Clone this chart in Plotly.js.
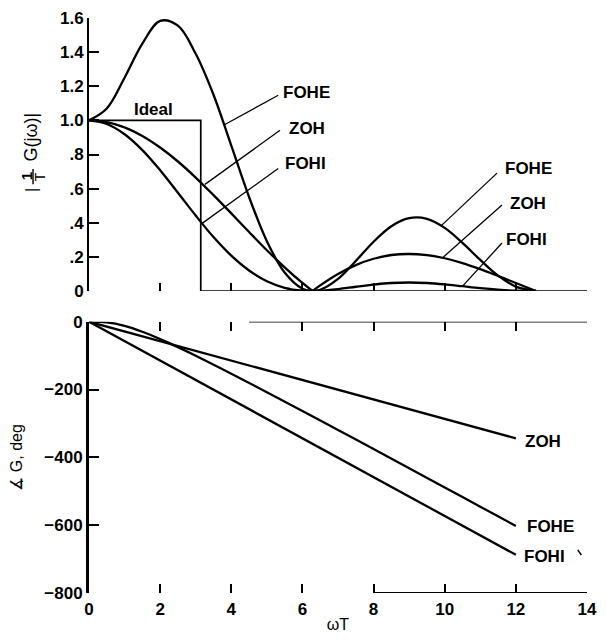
<!DOCTYPE html>
<html>
<head>
<meta charset="utf-8">
<script src="https://cdn.plot.ly/plotly-3.0.1.min.js"></script>
<style>html,body{margin:0;padding:0;background:#fff;}#chart{width:606px;height:642px;}</style>
</head>
<body>
<div id="chart"></div>
<script>
// ---- data ----
const wT = [0, 0.5, 1, 1.5, 2, 2.5, 3, 3.5, 4, 4.5, 5, 5.5, 6, 6.283, 6.5, 7, 7.5, 8, 8.5, 9, 9.5, 10, 10.5, 11, 11.5, 12, 12.566];
const magZOH  = [1, 0.990, 0.959, 0.909, 0.841, 0.759, 0.665, 0.562, 0.455, 0.346, 0.239, 0.139, 0.047, 0, 0.033, 0.100, 0.152, 0.189, 0.211, 0.217, 0.210, 0.192, 0.164, 0.128, 0.088, 0.047, 0];
const magFOHI = [1, 0.979, 0.919, 0.826, 0.708, 0.576, 0.442, 0.316, 0.207, 0.120, 0.057, 0.019, 0.002, 0, 0.001, 0.011, 0.025, 0.038, 0.047, 0.050, 0.047, 0.039, 0.028, 0.017, 0.008, 0.002, 0];
const magFOHE = [1, 1.07, 1.25, 1.45, 1.583, 1.555, 1.39, 1.15, 0.852, 0.551, 0.292, 0.108, 0.013, 0, 0.007, 0.071, 0.176, 0.289, 0.380, 0.427, 0.423, 0.370, 0.282, 0.182, 0.090, 0.026, 0];
const idealX = [0, 3.1416, 3.1416];
const idealY = [1, 1, 0];

const phX     = [0, 1, 2, 3, 4, 5, 6, 7, 8, 9, 10, 11, 12];
const phZOH   = [0, -28.6, -57.3, -85.9, -114.6, -143.2, -171.9, -200.5, -229.2, -257.8, -286.5, -315.1, -343.8];
const phFOHI  = [0, -57.3, -114.6, -171.9, -229.2, -286.5, -343.8, -401.1, -458.4, -515.7, -573.0, -630.3, -687.5];
const phXE    = [0, 0.5, 1, 1.5, 2, 2.5, 3, 4, 5, 6, 7, 8, 9, 10, 11, 12];
const phFOHE  = [0, -2.1, -12.3, -29.6, -51.2, -75.0, -100.3, -153.2, -207.8, -263.2, -319.2, -375.5, -432.0, -488.7, -545.5, -602.3];

const xTicks = [0, 2, 4, 6, 8, 10, 12, 14];
const magTicks = [0, 0.2, 0.4, 0.6, 0.8, 1.0, 1.2, 1.4, 1.6];
const magTickText = ['0', '.2', '.4', '.6', '.8', '1.0', '1.2', '1.4', '1.6'];
const phTicks = [0, -200, -400, -600, -800];
const phTickText = ['0', '\u2212200', '\u2212400', '\u2212600', '\u2212800'];

// ---- build ----
const K = '#000';
const curve = {color: K, width: 2.3, shape: 'spline', smoothing: 1};
const zi = wT.indexOf(6.283);
function lobe(arr, a, b) { return arr.slice(a, b); }
const traces = [];
[magZOH, magFOHI, magFOHE].forEach(m => {
  traces.push({x: lobe(wT, 0, zi + 1), y: lobe(m, 0, zi + 1), xaxis: 'x', yaxis: 'y', mode: 'lines', line: curve, hoverinfo: 'skip'});
  traces.push({x: lobe(wT, zi), y: lobe(m, zi), xaxis: 'x', yaxis: 'y', mode: 'lines', line: curve, hoverinfo: 'skip'});
});
traces.push({x: idealX, y: idealY, xaxis: 'x', yaxis: 'y', mode: 'lines', line: {color: K, width: 1.7}, hoverinfo: 'skip'});
traces.push({x: phX, y: phZOH, xaxis: 'x2', yaxis: 'y2', mode: 'lines', line: {color: K, width: 2.3}, hoverinfo: 'skip'});
traces.push({x: phX, y: phFOHI, xaxis: 'x2', yaxis: 'y2', mode: 'lines', line: {color: K, width: 2.3}, hoverinfo: 'skip'});
traces.push({x: phXE, y: phFOHE, xaxis: 'x2', yaxis: 'y2', mode: 'lines', line: {color: K, width: 2.3, shape: 'spline'}, hoverinfo: 'skip'});
traces.push({x: [], y: [], xaxis: 'x3', yaxis: 'y2', mode: 'lines', hoverinfo: 'skip'});

const F = 'Liberation Sans, Arial, Helvetica, sans-serif';
const tickFont = {family: F, size: 17, color: K, weight: 'bold'};
const labFont = {family: F, size: 17, color: K, weight: 'bold'};

function lead(x0, y0, x1, y1, yr) {
  return {type: 'line', xref: 'x', yref: yr, x0: x0, y0: y0, x1: x1, y1: y1, line: {color: K, width: 1.3}};
}
function lab(t, x, y, xr, yr) {
  return {text: t, x: x, y: y, xref: xr, yref: yr, xanchor: 'left', yanchor: 'middle', showarrow: false, font: labFont};
}

const shapes = [
  {type: 'line', xref: 'x', yref: 'y', x0: 3.1416, x1: 14, y0: 0, y1: 0, line: {color: K, width: 1.6}},
  {type: 'line', xref: 'x2', yref: 'y2', x0: 4.5, x1: 14, y0: 0, y1: 0, line: {color: K, width: 1.8}},
  {type: 'line', xref: 'x2', yref: 'y2', x0: 8, x1: 14, y0: -800, y1: -800, line: {color: K, width: 1.8}},
  lead(5.32, 1.147, 3.82, 0.976, 'y'),
  lead(5.37, 0.942, 3.26, 0.625, 'y'),
  lead(5.32, 0.718, 3.17, 0.395, 'y'),
  lead(11.47, 0.691, 9.92, 0.386, 'y'),
  lead(11.61, 0.504, 9.95, 0.197, 'y'),
  lead(11.61, 0.281, 10.49, 0.026, 'y'),
  {type: 'line', xref: 'x2', yref: 'y2', x0: 13.74, y0: -673, x1: 13.84, y1: -688, line: {color: K, width: 1.5}},
  // fraction bar of the top y-axis title
  {type: 'line', xref: 'paper', yref: 'y', x0: -0.1124, x1: -0.1124, y0: 0.625, y1: 0.715, line: {color: K, width: 1.4}}
];

const annotations = [
  lab('FOHE', 5.40, 1.161, 'x', 'y'),
  lab('ZOH', 5.57, 0.953, 'x', 'y'),
  lab('FOHI', 5.45, 0.748, 'x', 'y'),
  lab('FOHE', 11.64, 0.720, 'x', 'y'),
  lab('ZOH', 11.78, 0.515, 'x', 'y'),
  lab('FOHI', 11.67, 0.299, 'x', 'y'),
  lab('ZOH', 12.20, -352, 'x2', 'y2'),
  lab('FOHE', 12.25, -604, 'x2', 'y2'),
  lab('FOHI', 12.17, -693, 'x2', 'y2'),
  {text: 'Ideal', x: 1.81, y: 1.062, xref: 'x', yref: 'y', xanchor: 'center', yanchor: 'middle', showarrow: false, font: labFont},
  // top y-axis title: |(1/T) G(jω)|
  {text: 'G(j\u03C9)|', x: -0.1165, y: 0.905, xref: 'paper', yref: 'y', textangle: -90, showarrow: false, xanchor: 'center', yanchor: 'middle', font: {family: F, size: 18, color: K}},
  {text: '1', x: -0.1255, y: 0.670, xref: 'paper', yref: 'y', textangle: -90, showarrow: false, xanchor: 'center', yanchor: 'middle', font: {family: F, size: 15, color: K, weight: 'bold'}},
  {text: 'T', x: -0.0995, y: 0.670, xref: 'paper', yref: 'y', textangle: -90, showarrow: false, xanchor: 'center', yanchor: 'middle', font: {family: F, size: 14, color: K}},
  {text: '|', x: -0.1165, y: 0.592, xref: 'paper', yref: 'y', textangle: -90, showarrow: false, xanchor: 'center', yanchor: 'middle', font: {family: F, size: 16, color: K}}
];

const layout = {
  width: 606, height: 642,
  margin: {l: 89, r: 19, t: 18, b: 49},
  paper_bgcolor: '#fff', plot_bgcolor: '#fff',
  showlegend: false,
  font: {family: F, size: 17, color: K},
  xaxis: {domain: [0, 1], range: [0, 14], anchor: 'y', showline: false, showgrid: false, zeroline: false,
          ticks: 'inside', ticklen: 8, tickwidth: 2, tickcolor: K, tickvals: [2, 4, 6, 8, 10, 12, 14], showticklabels: false, fixedrange: true},
  yaxis: {domain: [0.5252, 1], range: [0, 1.6], anchor: 'x', showline: true, linewidth: 2, linecolor: K, showgrid: false, zeroline: false,
          ticks: 'inside', ticklen: 10, tickwidth: 2, tickcolor: K, tickvals: magTicks, ticktext: magTickText, tickfont: tickFont, fixedrange: true},
  xaxis2: {domain: [0, 1], range: [0, 14], anchor: 'y2', showline: false, showgrid: false, zeroline: false,
           ticks: 'inside', ticklen: 9, tickwidth: 2, tickcolor: K, tickvals: xTicks, ticktext: xTicks.map(String), tickfont: tickFont,
           ticklabelstandoff: 4,
           title: {text: '\u03C9T', standoff: 0, font: {family: F, size: 16, color: K}}, fixedrange: true},
  xaxis3: {overlaying: 'x2', side: 'top', anchor: 'y2', range: [0, 14], showline: false, showgrid: false, zeroline: false,
           ticks: 'inside', ticklen: 9, tickwidth: 2, tickcolor: K, tickvals: [2, 4, 6, 8, 10, 12, 14], showticklabels: false, fixedrange: true},
  yaxis2: {domain: [0, 0.4718], range: [-800, 0], anchor: 'x2', showline: true, linewidth: 3, linecolor: K, showgrid: false, zeroline: false,
           ticks: 'inside', ticklen: 10, tickwidth: 2, tickcolor: K, tickvals: phTicks, ticktext: phTickText, tickfont: tickFont,
           title: {text: '\u2221 G, deg', standoff: 18, font: {family: F, size: 16, color: K}}, fixedrange: true},
  shapes: shapes,
  annotations: annotations
};

Plotly.newPlot('chart', traces, layout, {staticPlot: true, displayModeBar: false});
</script>
</body>
</html>
